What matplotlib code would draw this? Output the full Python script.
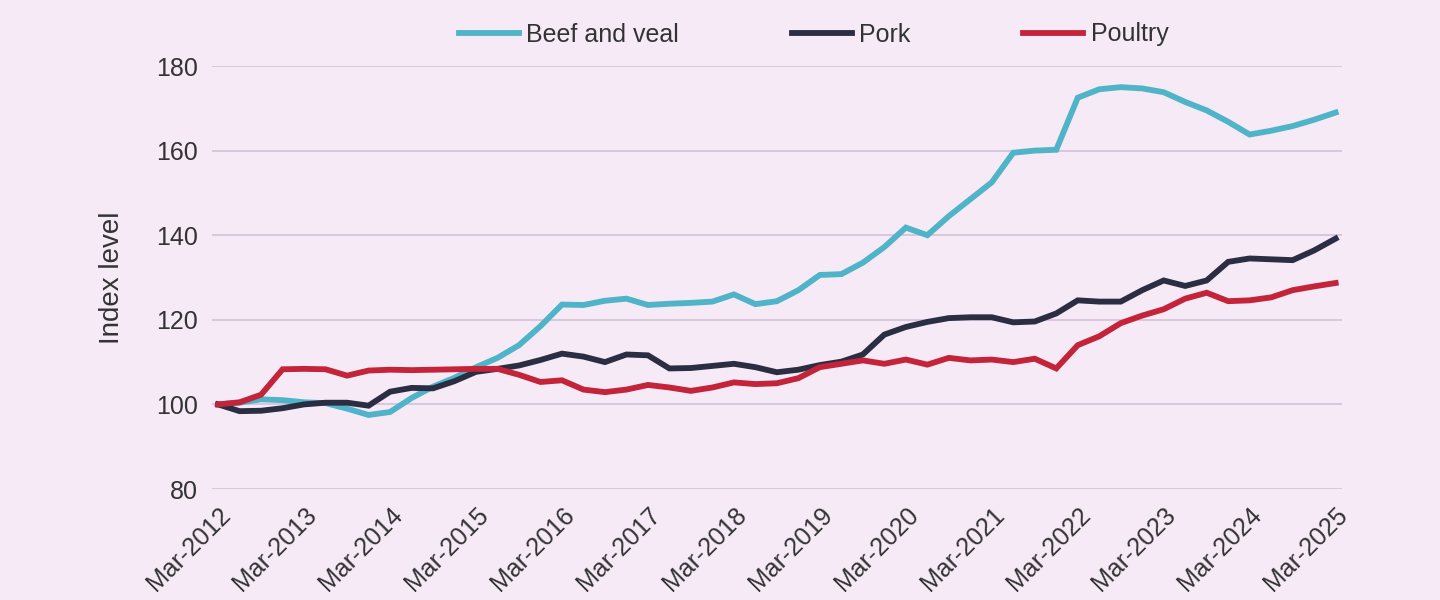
# -*- coding: utf-8 -*-

# Quarterly meat price index (Mar-2012 = 100): beef and veal, pork, poultry

import matplotlib
matplotlib.use("Agg")
import matplotlib.pyplot as plt

plt.rcParams['font.family'] = ['Liberation Sans', 'DejaVu Sans']

# data, one value per quarter from Mar-2012 to Mar-2025
beef = [100.0, 100.4, 101.2, 101.0,
        100.5, 100.3, 99.0, 97.5,
        98.2, 101.5, 104.2, 106.3,
        108.8, 111.0, 114.0, 118.5,
        123.6, 123.5, 124.5, 125.0,
        123.5, 123.8, 124.0, 124.3,
        126.0, 123.7, 124.4, 127.0,
        130.6, 130.8, 133.5, 137.2,
        141.8, 140.0, 144.5, 148.5,
        152.5, 159.5, 160.0, 160.2,
        172.5, 174.5, 175.0, 174.7,
        173.8, 171.5, 169.5, 166.8,
        163.8, 164.7, 165.8, 167.3,
        169.0]
pork = [100.0, 98.4, 98.5, 99.1,
        100.0, 100.4, 100.4, 99.7,
        103.0, 103.9, 103.8, 105.5,
        107.7, 108.4, 109.2, 110.5,
        112.0, 111.3, 110.0, 111.8,
        111.6, 108.5, 108.6, 109.1,
        109.6, 108.8, 107.6, 108.2,
        109.3, 110.1, 111.8, 116.5,
        118.3, 119.5, 120.4, 120.6,
        120.6, 119.4, 119.6, 121.5,
        124.6, 124.3, 124.3, 127.0,
        129.3, 128.0, 129.3, 133.7,
        134.5, 134.3, 134.1, 136.4,
        139.2]
poultry = [100.0, 100.5, 102.3, 108.3,
           108.4, 108.3, 106.8, 108.0,
           108.2, 108.1, 108.2, 108.3,
           108.4, 108.4, 107.0, 105.3,
           105.7, 103.5, 102.9, 103.5,
           104.6, 104.0, 103.2, 104.0,
           105.2, 104.8, 105.0, 106.2,
           108.8, 109.6, 110.4, 109.6,
           110.6, 109.4, 111.0, 110.4,
           110.6, 110.0, 110.8, 108.5,
           114.0, 116.1, 119.2, 121.0,
           122.5, 125.0, 126.4, 124.4,
           124.6, 125.3, 127.0, 127.9,
           128.7]

tick_labels = ["Mar-2012", "Mar-2013", "Mar-2014", "Mar-2015", "Mar-2016",
               "Mar-2017", "Mar-2018", "Mar-2019", "Mar-2020", "Mar-2021",
               "Mar-2022", "Mar-2023", "Mar-2024", "Mar-2025"]
y_ticks = [80, 100, 120, 140, 160, 180]

BG = "#f6eaf6"
GRID = "#d6c4dc"
TEXT = "#333333"

fig = plt.figure(figsize=(14.4, 6), dpi=100, facecolor=BG)
ax = fig.add_axes([0.147, 0.185, 0.785, 0.705], facecolor=BG)

x = list(range(len(beef)))
ax.plot(x, beef, color="#4fb4c8", lw=4.2, label="Beef and veal", solid_joinstyle="miter")
ax.plot(x, pork, color="#2b2d42", lw=4.2, label="Pork", solid_joinstyle="miter")
ax.plot(x, poultry, color="#c4243a", lw=4.2, label="Poultry", solid_joinstyle="miter")

ax.set_ylim(80, 180)
ax.set_xlim(-0.3, len(beef) - 0.7)
ax.set_yticks(y_ticks)
ax.set_xticks(list(range(0, len(beef), 4)))
ax.set_xticklabels(tick_labels, rotation=45, ha="right", rotation_mode="anchor")
ax.tick_params(axis="both", length=0, labelsize=18, colors=TEXT, pad=10)
ax.grid(axis="y", color=GRID, lw=1.3)
ax.set_axisbelow(True)
for s in ax.spines.values():
    s.set_visible(False)

ax.set_ylabel("Index level", fontsize=20, color=TEXT, labelpad=22)

fig.legend(loc="upper center", bbox_to_anchor=(0.565, 1.0), ncol=3, frameon=False,
           fontsize=18, handlelength=2.4, handletextpad=0.3, columnspacing=4.5,
           labelcolor=TEXT)

fig.savefig("out.png", dpi=100, facecolor=BG)
